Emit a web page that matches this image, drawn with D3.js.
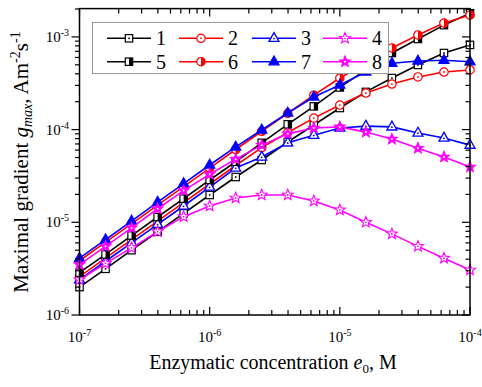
<!DOCTYPE html>
<html><head><meta charset="utf-8">
<script src="https://cdn.jsdelivr.net/npm/d3@7"></script>
<style>body{margin:0;background:#fff}</style>
</head><body><svg id="c" width="482" height="387"></svg>
<script>
const xValues = [1e-7, 1.585e-7, 2.512e-7, 3.981e-7, 6.310e-7, 1e-6, 1.585e-6, 2.512e-6, 3.981e-6, 6.310e-6, 1e-5, 1.585e-5, 2.512e-5, 3.981e-5, 6.310e-5, 1e-4];
const s1 = [2.0e-6, 3.15e-6, 5.0e-6, 7.9e-6, 1.25e-5, 1.97e-5, 3.08e-5, 4.7e-5, 7.35e-5, 1.12e-4, 1.71e-4, 2.55e-4, 3.6e-4, 4.98e-4, 6.7e-4, 8.2e-4];
const s2 = [2.6e-6, 4.1e-6, 6.5e-6, 1.03e-5, 1.63e-5, 2.59e-5, 4.1e-5, 6.4e-5, 9.3e-5, 1.33e-4, 1.84e-4, 2.48e-4, 3.1e-4, 3.7e-4, 4.18e-4, 4.4e-4];
const s3 = [2.4e-6, 3.8e-6, 6.0e-6, 9.5e-6, 1.5e-5, 2.4e-5, 3.85e-5, 5.06e-5, 7.2e-5, 8.7e-5, 1.04e-4, 1.09e-4, 1.07e-4, 9.2e-5, 8.1e-5, 6.8e-5];
const s4 = [2.4e-6, 3.6e-6, 5.3e-6, 7.9e-6, 1.15e-5, 1.5e-5, 1.83e-5, 1.97e-5, 1.97e-5, 1.7e-5, 1.36e-5, 1.0e-5, 7.5e-6, 5.5e-6, 4.1e-6, 3.06e-6];
const s5 = [2.86e-6, 4.5e-6, 7.2e-6, 1.14e-5, 1.8e-5, 2.86e-5, 4.5e-5, 7.2e-5, 1.14e-4, 1.78e-4, 2.85e-4, 4.4e-4, 6.7e-4, 9.5e-4, 1.34e-3, 1.8e-3];
const s6 = [3.85e-6, 6.1e-6, 9.6e-6, 1.53e-5, 2.43e-5, 3.85e-5, 6.1e-5, 9.6e-5, 1.5e-4, 2.35e-4, 3.6e-4, 5.2e-4, 7.6e-4, 1.05e-3, 1.41e-3, 1.72e-3];
const s7 = [4.1e-6, 6.5e-6, 1.03e-5, 1.65e-5, 2.62e-5, 4.15e-5, 6.5e-5, 9.9e-5, 1.51e-4, 2.25e-4, 3.03e-4, 4.18e-4, 5.2e-4, 5.5e-4, 5.6e-4, 5.4e-4];
const s8 = [3.5e-6, 5.5e-6, 8.7e-6, 1.4e-5, 2.2e-5, 3.3e-5, 4.8e-5, 6.8e-5, 9.0e-5, 1.04e-4, 1.07e-4, 9.4e-5, 7.9e-5, 6.3e-5, 5.06e-5, 3.95e-5];
const seriesNames = ["1","2","3","4","5","6","7","8"];
const xTickExps = [-7, -6, -5, -4];
const yTickExps = [-6, -5, -4, -3];

const svg = d3.select("#c");
const font = "'Liberation Serif','Times New Roman',serif";
const x = d3.scaleLog().domain([1e-7, 1e-4]).range([79.5, 470]);
const y = d3.scaleLog().domain([1e-6, 2.02e-3]).range([315, 8.6]);

const styles = [
  {data:s1, color:"#000", shape:"square", fill:"open"},
  {data:s2, color:"#ff0000", shape:"circle", fill:"open"},
  {data:s3, color:"#0000ff", shape:"triangle", fill:"open"},
  {data:s4, color:"#ff00ff", shape:"star", fill:"open"},
  {data:s5, color:"#000", shape:"square", fill:"half"},
  {data:s6, color:"#ff0000", shape:"circle", fill:"half"},
  {data:s7, color:"#0000ff", shape:"triangle", fill:"full"},
  {data:s8, color:"#ff00ff", shape:"star", fill:"full"}
];

function starPts(ro, ri) {
  const p = [];
  for (let i = 0; i < 10; i++) {
    const r = i % 2 === 0 ? ro : ri;
    const a = -Math.PI/2 + i*Math.PI/5;
    p.push([r*Math.cos(a), r*Math.sin(a)]);
  }
  return p.map(d => d.join(",")).join(" ");
}

function drawMarker(g, cx, cy, st) {
  const m = g.append("g").attr("transform", `translate(${cx},${cy})`);
  const c = st.color;
  const fillCol = st.fill === "full" ? c : "#fff";
  if (st.shape === "square") {
    m.append("rect").attr("x",-3.7).attr("y",-3.7).attr("width",7.4).attr("height",7.4)
      .attr("fill","#fff").attr("stroke",c).attr("stroke-width",1.2);
    if (st.fill === "half") m.append("rect").attr("x",0).attr("y",-3.7).attr("width",3.7).attr("height",7.4).attr("fill",c);
    else m.append("rect").attr("x",-0.8).attr("y",-0.8).attr("width",1.6).attr("height",1.6).attr("fill",c);
  } else if (st.shape === "circle") {
    m.append("circle").attr("r",4.2).attr("fill","#fff").attr("stroke",c).attr("stroke-width",1.2);
    if (st.fill === "half") m.append("path").attr("d","M0,-4.2 A4.2,4.2 0 0,1 0,4.2 Z").attr("fill",c);
    else m.append("circle").attr("r",0.9).attr("fill",c);
  } else if (st.shape === "triangle") {
    m.append("path").attr("d","M0,-5.7 L5,3.1 L-5,3.1 Z").attr("fill",fillCol).attr("stroke",c).attr("stroke-width",1.3);
    if (st.fill !== "full") m.append("circle").attr("cy",0.3).attr("r",0.9).attr("fill",c);
  } else if (st.shape === "star") {
    m.append("polygon").attr("points",starPts(5.7,2.5)).attr("fill",st.fill==="full"?c:"#fff")
      .attr("stroke",c).attr("stroke-width",1.1);
    if (st.fill !== "full") m.append("circle").attr("r",0.9).attr("fill",c);
    else m.append("circle").attr("r",1).attr("fill","#fff");
  }
}

// data
const line = d3.line().x((d,i) => x(xValues[i])).y(d => y(d));
const plot = svg.append("g");
styles.forEach(st => {
  plot.append("path").datum(st.data).attr("d", line).attr("fill","none")
    .attr("stroke", st.color).attr("stroke-width", 1.6);
  st.data.forEach((v,i) => drawMarker(plot, x(xValues[i]), y(v), st));
});

// frame
const X0 = 79.5, X1 = 470, Y0 = 8.6, Y1 = 315;
svg.append("rect").attr("x",X0).attr("y",Y0).attr("width",X1-X0).attr("height",Y1-Y0)
  .attr("fill","none").attr("stroke","#000").attr("stroke-width",1.5);

const ax = svg.append("g").attr("stroke","#000").attr("stroke-width",1.2);
// x ticks
for (let e = -7; e <= -4; e++) {
  for (let m = 1; m <= 9; m++) {
    const v = m * Math.pow(10, e);
    if (v > 1e-4 * 1.0001) continue;
    const px = x(v);
    const len = m === 1 ? 8 : 5;
    ax.append("line").attr("x1",px).attr("x2",px).attr("y1",Y1).attr("y2",Y1-len);
    ax.append("line").attr("x1",px).attr("x2",px).attr("y1",Y0).attr("y2",Y0+len);
  }
}
// y ticks
for (let e = -6; e <= -3; e++) {
  for (let m = 1; m <= 9; m++) {
    const v = m * Math.pow(10, e);
    if (v > 2.02e-3) continue;
    const py = y(v);
    const len = m === 1 ? 8 : 4.5;
    ax.append("line").attr("x1",X0).attr("x2",X0-len).attr("y1",py).attr("y2",py);
    ax.append("line").attr("x1",X1).attr("x2",X1-len).attr("y1",py).attr("y2",py);
  }
}

// tick labels
xTickExps.forEach(e => {
  const t = svg.append("text").attr("x", x(Math.pow(10,e))).attr("y", 342)
    .attr("text-anchor","middle").attr("font-family",font).attr("font-size",15);
  t.append("tspan").text("10");
  t.append("tspan").attr("font-size",10).attr("dy",-6).text(String(e));
});
yTickExps.forEach(e => {
  const t = svg.append("text").attr("x", 69).attr("y", y(Math.pow(10,e)) + 5)
    .attr("text-anchor","end").attr("font-family",font).attr("font-size",15);
  t.append("tspan").text("10");
  t.append("tspan").attr("font-size",10).attr("dy",-6).text(String(e));
});

// axis titles
const xt = svg.append("text").attr("x", 273).attr("y", 369).attr("text-anchor","middle")
  .attr("font-family",font).attr("font-size",20);
xt.append("tspan").text("Enzymatic concentration ");
xt.append("tspan").attr("font-style","italic").text("e");
xt.append("tspan").attr("font-size",13).attr("dy",4).text("0");
xt.append("tspan").attr("dy",-4).text(", M");

const yt = svg.append("text").attr("transform","translate(28,162) rotate(-90)").attr("text-anchor","middle")
  .attr("font-family",font).attr("font-size",21);
yt.append("tspan").text("Maximal gradient ");
yt.append("tspan").attr("font-style","italic").text("g");
yt.append("tspan").attr("font-style","italic").attr("font-size",14).attr("dy",4).text("max");
yt.append("tspan").attr("dy",-4).text(", Am");
yt.append("tspan").attr("font-size",14).attr("dy",-8).text("-2");
yt.append("tspan").attr("dy",8).text("s");
yt.append("tspan").attr("font-size",14).attr("dy",-8).text("-1");

// legend
const lg = svg.append("g");
lg.append("rect").attr("x",92.5).attr("y",22.5).attr("width",296).attr("height",51)
  .attr("fill","#fff").attr("stroke","#999").attr("stroke-width",1);
const colX = [107, 179, 252, 323];
const rowY = [38.3, 61.7];
styles.forEach((st, i) => {
  const col = i % 4, row = Math.floor(i / 4);
  const lx = colX[col], ly = rowY[row];
  lg.append("line").attr("x1",lx).attr("x2",lx+44).attr("y1",ly).attr("y2",ly)
    .attr("stroke",st.color).attr("stroke-width",1.6);
  drawMarker(lg, lx+22, ly, st);
  lg.append("text").attr("x", lx+49).attr("y", ly+7).attr("font-family",font).attr("font-size",20)
    .text(seriesNames[i]);
});
</script></body></html>
